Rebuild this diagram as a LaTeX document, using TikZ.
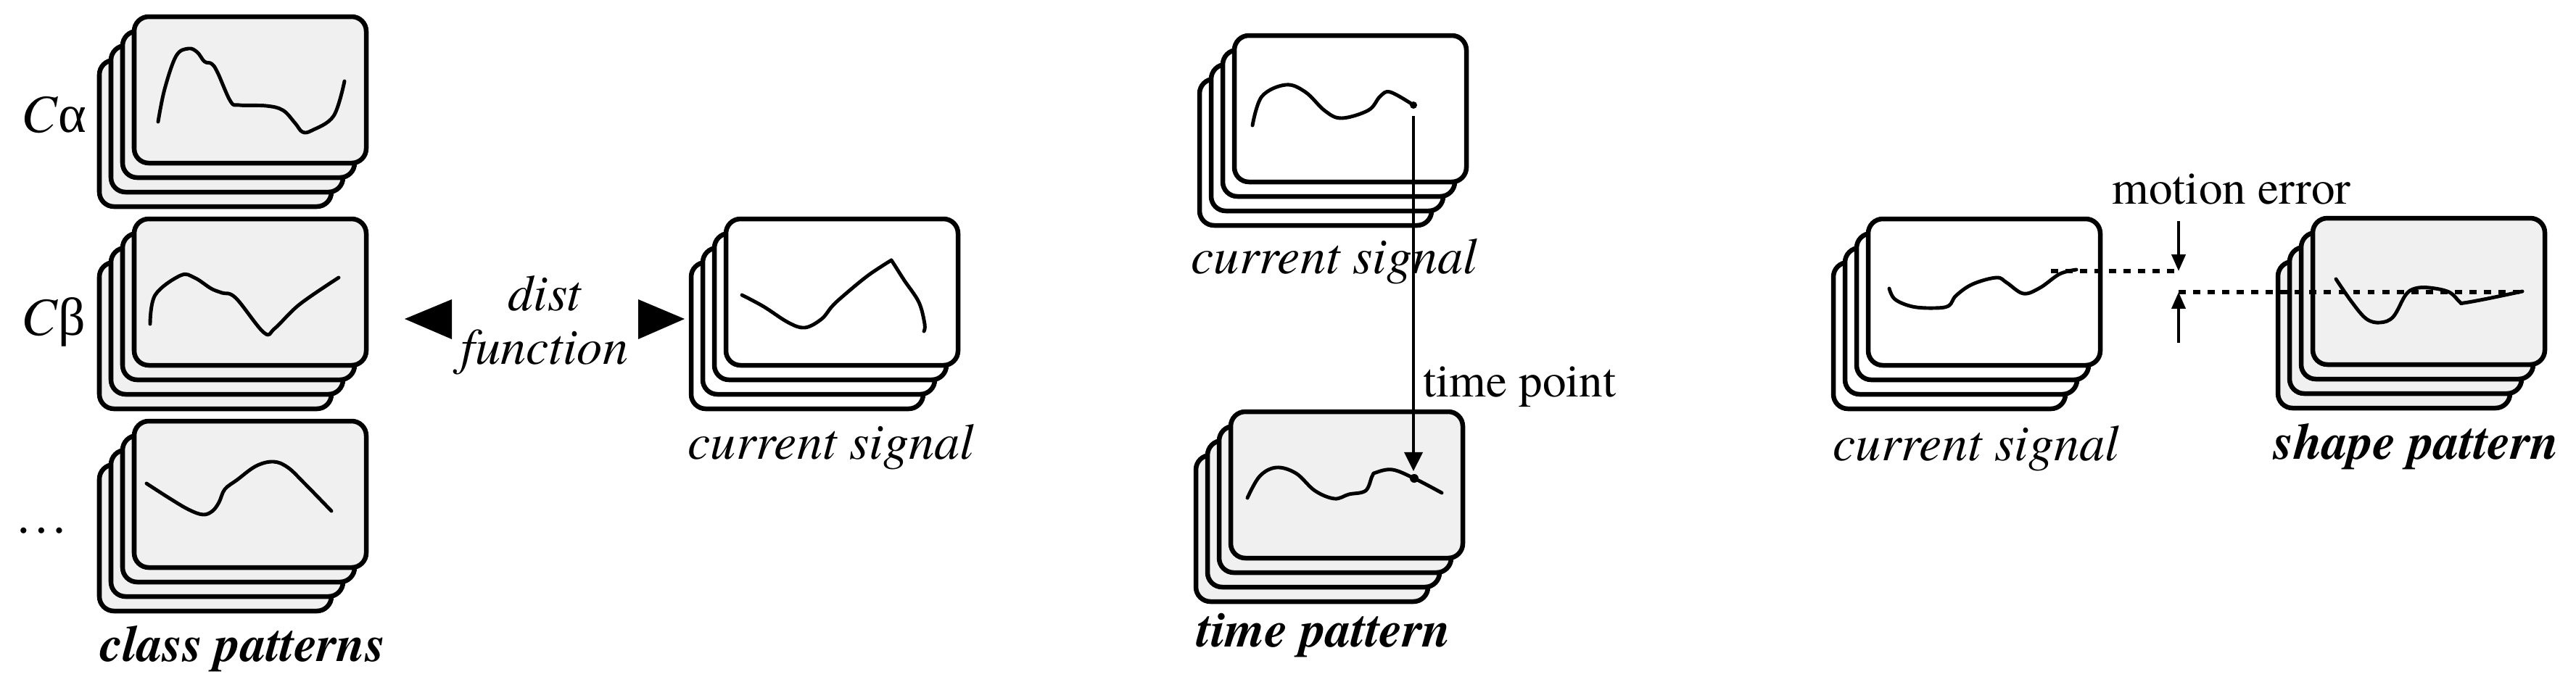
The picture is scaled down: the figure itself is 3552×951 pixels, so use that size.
\documentclass[tikz,border=0pt]{standalone}
\usepackage{fontspec}
\setmainfont{texgyretermes}[
  Extension=.otf,
  UprightFont=*-regular,
  ItalicFont=*-italic,
  BoldFont=*-bold,
  BoldItalicFont=*-bolditalic]
\newfontfamily\greekfont{Liberation Serif}
\usetikzlibrary{arrows.meta}

\definecolor{cardgrey}{RGB}{240,240,240}

\tikzset{
  card/.style={draw=black, line width=1.85pt, rounded corners=5.7pt},
  wave/.style={line width=1.4pt, line cap=round, line join=round},
  lbl/.style={anchor=base west, inner sep=0pt, font=\fontsize{20}{24}\selectfont\itshape},
  blbl/.style={anchor=base west, inner sep=0pt, font=\fontsize{20}{24}\selectfont\bfseries\itshape},
  rlbl/.style={anchor=base west, inner sep=0pt, font=\fontsize{18.5}{22}\selectfont},
  dotline/.style={line width=1.6pt, dash pattern=on 2.8pt off 2.9pt},
  pointer/.style={line width=1.1pt, -{Triangle[length=7.4pt, width=7.1pt]}},
  errarrow/.style={line width=1.1pt, -{Triangle[length=6.5pt, width=5.4pt]}},
}

% stack of four cards, front card top-left at (#1,#2), filled with #3
\newcommand{\cardstack}[3]{%
  \foreach \k in {3,2,1,0}
    \draw[card, fill=#3] ({#1-16*\k},{#2+20*\k}) rectangle ++(320,202);
}

\begin{document}
\begin{tikzpicture}[x=0.01cm, y=-0.01cm]
  \useasboundingbox (0,0) rectangle (3552,951);

  % ------ class patterns ------
  \cardstack{185}{23}{cardgrey}
  \cardstack{185}{302}{cardgrey}
  \cardstack{185}{581}{cardgrey}
  \draw[wave] plot[smooth, tension=0.6] coordinates {(218,168) (227,123) (243,77) (260,67) (272,72) (282,85) (292,88) (300,100) (318,140) (330,145) (367,146) (390,152) (407,170) (417,182) (430,180) (460,160) (475,112)};
  \draw[wave] plot[smooth, tension=0.6] coordinates {(207,447) (214,407) (249,380) (268,383) (291,398) (306,404) (325,411) (364,459) (379,453) (413,420) (467,383)};
  \draw[wave] plot[smooth, tension=0.6] coordinates {(202,667) (233,687) (260,703) (280,710) (293,705) (302,693) (310,675) (327,662) (353,643) (377,637) (397,645) (420,667) (457,705)};
  \node[anchor=base west, inner sep=0pt, font=\fontsize{21}{24}\selectfont] (calpha) at (29,182) {\textit{C}{\greekfont α}};
  \node[anchor=base west, inner sep=0pt, font=\fontsize{21}{24}\selectfont] (cbeta) at (29,462) {\textit{C}{\greekfont β}};
  \node[anchor=base west, inner sep=0pt, font=\fontsize{21}{24}\selectfont] (cdots) at (20,735) {…};
  \node[blbl] (classlbl) at (138,912) {class patterns};

  % ------ dist function ------
  \fill (558,440) -- (623,413) -- (623,468) -- cycle;
  \fill (944,440) -- (880,413) -- (880,468) -- cycle;
  \node[lbl, anchor=base] (dist) at (751,428) {dist};
  \node[lbl, anchor=base] (func) at (751,502) {function};

  % ------ current signal (left) ------
  \cardstack{1001}{302}{white}
  \draw[wave] plot[smooth, tension=0.6] coordinates {(1023,407) (1053,423) (1087,445) (1110,452) (1133,440) (1147,423) (1163,408) (1197,380) (1229,359)};
  \draw[wave] plot[smooth, tension=0.6] coordinates {(1229,359) (1233,365) (1247,387) (1267,417) (1275,447) (1274,457)};
  \node[lbl] (curlbla) at (948,633) {current signal};

  % ------ time pattern ------
  \cardstack{1702}{49}{white}
  \draw[wave] plot[smooth, tension=0.6] coordinates {(1727,173) (1740,133) (1773,117) (1800,127) (1827,153) (1850,163) (1887,152) (1903,133) (1917,127) (1949,145)};
  \fill (1949,145) circle (5);
  \node[lbl] (curlblb) at (1642,377) {current signal};

  \cardstack{1697}{568}{cardgrey}
  \draw[wave] plot[smooth, tension=0.6] coordinates {(1720,687) (1737,657) (1760,645) (1787,653) (1813,677) (1840,688) (1860,682) (1883,677) (1892,657) (1897,652) (1920,648) (1950,660) (1988,680)};
  \fill (1950,660) circle (6);
  \node[blbl] (timelbl) at (1650,892) {time pattern};
  \node[rlbl] (tplbl) at (1962,547) {time point};

  \coordinate (tsrc) at (1949,160);
  \coordinate (tdst) at (1949,650);
  \draw[pointer] (tsrc) -- (tdst);

  % ------ shape pattern ------
  \cardstack{2576}{302}{white}
  \draw[wave] plot[smooth, tension=0.6] coordinates {(2605,398) (2613,413) (2637,423) (2667,425) (2687,422) (2697,408) (2720,392) (2753,383) (2767,390) (2790,405) (2813,397) (2840,378) (2863,372)};
  \node[lbl] (curlblc) at (2527,635) {current signal};

  \cardstack{3189}{301}{cardgrey}
  \draw[wave] plot[smooth, tension=0.6] coordinates {(3221,385) (3243,417) (3263,440) (3282,445) (3300,437) (3317,407) (3330,398) (3350,397) (3377,403) (3392,417) (3397,418) (3430,412) (3478,402)};
  \node[blbl] (shapelbl) at (3135,633) {shape pattern};

  \coordinate (hitop) at (2828,374);
  \coordinate (errtop) at (3004,374);
  \coordinate (errbot) at (3004,403);
  \coordinate (lobot) at (3474,403);
  \coordinate (errtopstart) at (3004,305);
  \coordinate (errbotstart) at (3004,473);
  \draw[dotline] (hitop) -- (errtop);
  \draw[dotline] (errbot) -- (lobot);
  \draw[errarrow] (errtopstart) -- (errtop);
  \draw[errarrow] (errbotstart) -- (errbot);
  \node[rlbl] (errlbl) at (2912,281) {motion error};
\end{tikzpicture}
\end{document}
